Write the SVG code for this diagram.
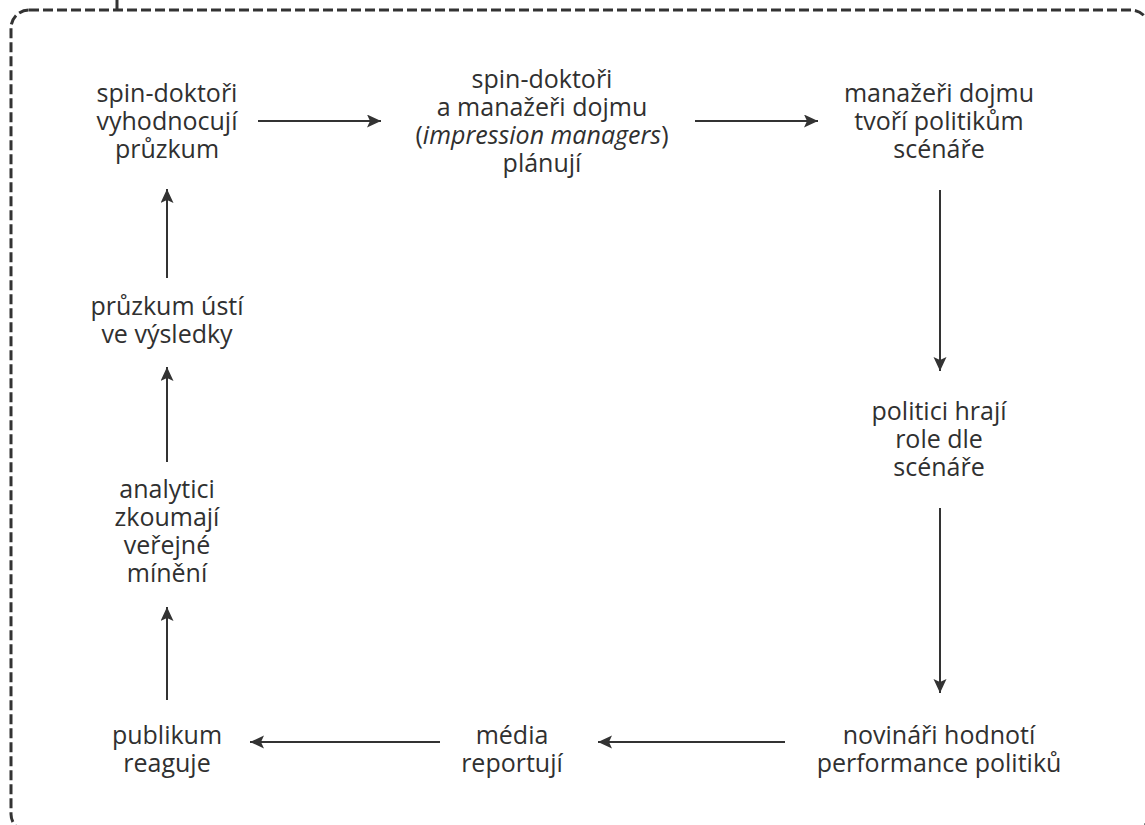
<svg xmlns="http://www.w3.org/2000/svg" width="1145" height="825" viewBox="0 0 1145 825">
<defs>
<style>
text{font-family:"Open Sans","Noto Sans","DejaVu Sans",sans-serif;font-size:25px;fill:#303030;text-anchor:middle}
.c line{stroke:#333;stroke-width:2;marker-end:url(#ah)}
.frame{fill:none;stroke:#333;stroke-width:3;stroke-dasharray:10 4}
</style>
<marker id="ah" markerUnits="userSpaceOnUse" markerWidth="15" markerHeight="14" refX="14" refY="6.5" orient="auto">
<path d="M0,0 L14,6.5 L0,13 L3,6.5 z" fill="#333"/>
</marker>
</defs>
<rect width="1145" height="825" fill="#fff"/>
<rect class="frame" x="11" y="10" width="1138" height="822" rx="18"/>
<line x1="117" y1="0" x2="117" y2="10" stroke="#333" stroke-width="3"/>
<g id="n1"><text x="167" y="102">spin-doktoři</text><text x="167" y="130">vyhodnocují</text><text x="167" y="158">průzkum</text></g>
<g id="n2"><text x="542" y="88">spin-doktoři</text><text x="542" y="116">a manažeři dojmu</text><text x="542" y="144">(<tspan font-style="italic">impression managers</tspan>)</text><text x="542" y="172">plánují</text></g>
<g id="n3"><text x="939" y="102">manažeři dojmu</text><text x="939" y="130">tvoří politikům</text><text x="939" y="158">scénáře</text></g>
<g id="n4"><text x="939" y="420">politici hrají</text><text x="939" y="448">role dle</text><text x="939" y="476">scénáře</text></g>
<g id="n5"><text x="939" y="744">novináři hodnotí</text><text x="939" y="772">performance politiků</text></g>
<g id="n6"><text x="512" y="744">média</text><text x="512" y="772">reportují</text></g>
<g id="n7"><text x="167" y="744">publikum</text><text x="167" y="772">reaguje</text></g>
<g id="n8"><text x="167" y="498">analytici</text><text x="167" y="526">zkoumají</text><text x="167" y="554">veřejné</text><text x="167" y="582">mínění</text></g>
<g id="n9"><text x="167" y="315">průzkum ústí</text><text x="167" y="343">ve výsledky</text></g>
<g class="c" id="connectors">
<line x1="258" y1="121" x2="381" y2="121"/>
<line x1="695" y1="121" x2="818" y2="121"/>
<line x1="940" y1="190" x2="940" y2="371"/>
<line x1="940" y1="508" x2="940" y2="693"/>
<line x1="785" y1="742" x2="598" y2="742"/>
<line x1="440" y1="742" x2="250" y2="742"/>
<line x1="167" y1="700" x2="167" y2="607"/>
<line x1="167" y1="462" x2="167" y2="367"/>
<line x1="167" y1="278" x2="167" y2="189"/>
</g>
</svg>
